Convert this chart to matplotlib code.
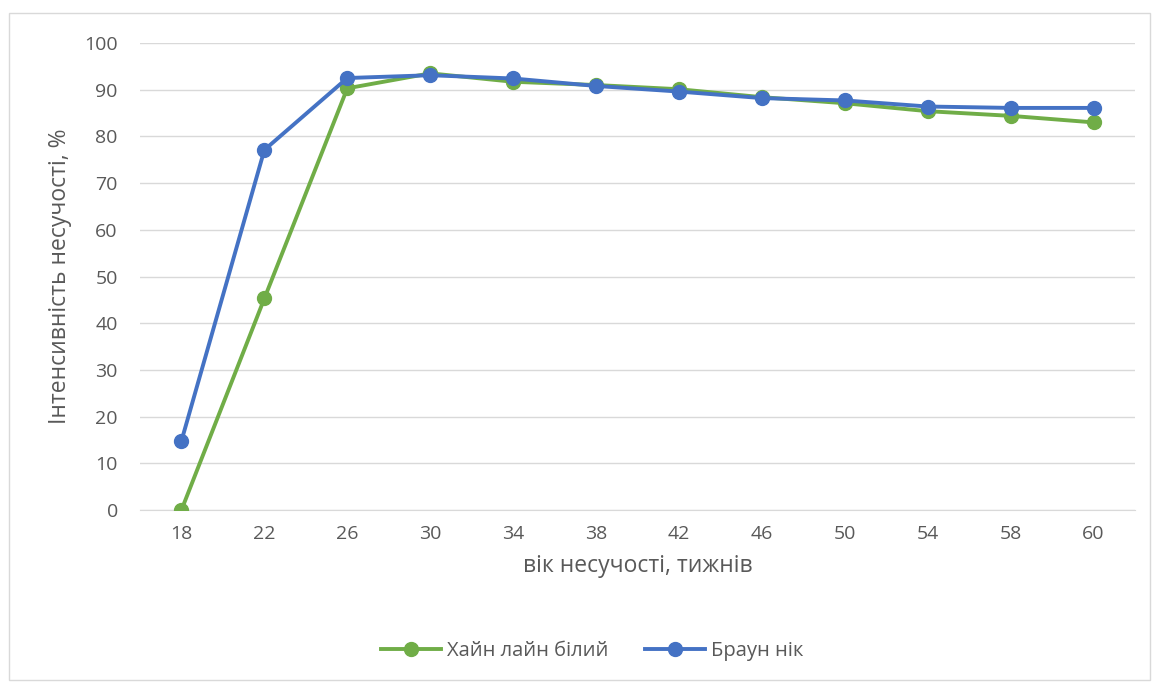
import matplotlib.pyplot as plt
from matplotlib.patches import Rectangle

# Дані: вік несучості (тижні) та інтенсивність несучості, %
weeks = ["18", "22", "26", "30", "34", "38", "42", "46", "50", "54", "58", "60"]
hy_line = [0, 45.3, 90.3, 93.5, 91.7, 91.0, 90.1, 88.4, 87.1, 85.4, 84.4, 83.0]
brown_nick = [14.8, 77.1, 92.5, 93.1, 92.4, 90.8, 89.6, 88.2, 87.7, 86.4, 86.1, 86.1]

plt.rcParams['font.family'] = ['Open Sans', 'DejaVu Sans']
text_color = '#595959'

fig = plt.figure(figsize=(11.53, 6.82), dpi=100)
ax = fig.add_axes([140 / 1153, 1 - 510 / 682, 995 / 1153, 467 / 682])

# рамка області діаграми
fig.patches.append(Rectangle((9 / 1153, 2 / 682), 1141 / 1153, 667 / 682,
                             transform=fig.transFigure, fill=False,
                             edgecolor='#D9D9D9', linewidth=1))

x = range(len(weeks))
ax.plot(x, hy_line, color='#70AD47', linewidth=2.8, marker='o', markersize=10,
        label='Хайн лайн білий', zorder=3)
ax.plot(x, brown_nick, color='#4472C4', linewidth=2.8, marker='o', markersize=10,
        label='Браун нік', zorder=4)

ax.set_xlim(-0.5, len(weeks) - 0.5)
ax.set_ylim(0, 100)
ax.set_yticks(range(0, 101, 10))
ax.set_xticks(list(x))
ax.set_xticklabels(weeks)
ax.yaxis.grid(True, color='#D9D9D9', linewidth=1)
ax.set_axisbelow(True)
for s in ['top', 'right', 'left']:
    ax.spines[s].set_visible(False)
ax.spines['bottom'].set_color('#D9D9D9')
ax.tick_params(axis='both', length=0, labelsize=14, colors=text_color, pad=11)
ax.tick_params(axis='y', pad=16)

ax.set_xlabel('вік несучості, тижнів', fontsize=16.5, color=text_color, labelpad=8)
ax.set_ylabel('Інтенсивність несучості, %', fontsize=16.5, color=text_color, labelpad=9)

ax.legend(loc='center', bbox_to_anchor=(592 / 1153, 1 - 651 / 682),
          bbox_transform=fig.transFigure, ncol=2, frameon=False, fontsize=14.5,
          labelcolor=text_color, handlelength=3.0, columnspacing=1.8, handletextpad=0.3)

fig.savefig('out.png', dpi=100)
